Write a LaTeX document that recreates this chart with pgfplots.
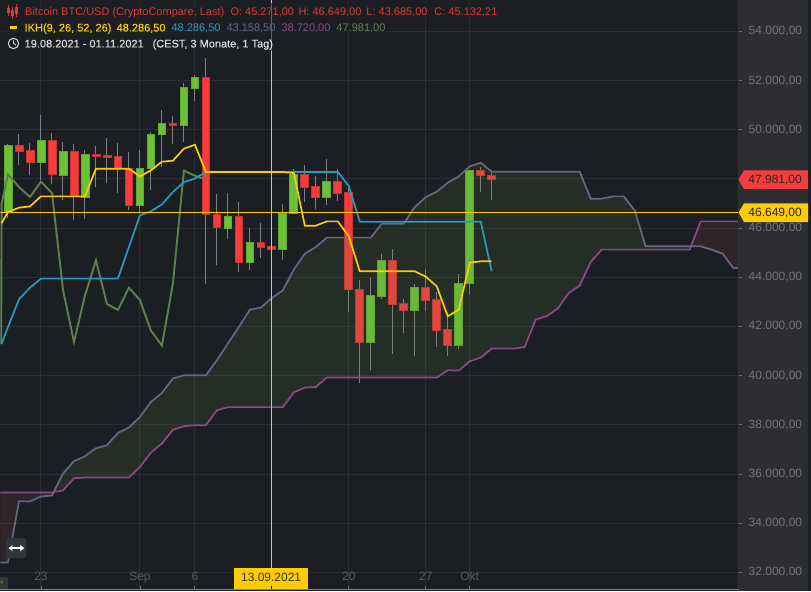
\documentclass[border=0pt]{standalone}
\usepackage{fontspec}
\setmainfont{Liberation Sans}
\newfontfamily\med[FakeBold=0.25]{Liberation Sans}
\usepackage{pgfplots}
\pgfplotsset{compat=1.18}
\usetikzlibrary{arrows.meta}
\definecolor{bg}{HTML}{1B1E23}
\definecolor{panel}{HTML}{2D2E33}
\definecolor{gridc}{HTML}{2B2E33}
\definecolor{wickc}{HTML}{7E8185}
\definecolor{upbody}{HTML}{6CC235}
\definecolor{upedge}{HTML}{5FA832}
\definecolor{dnbody}{HTML}{F83C3C}
\definecolor{dnedge}{HTML}{C83232}
\definecolor{ikhy}{HTML}{FFCC00}
\definecolor{kij}{HTML}{2B9AC0}
\definecolor{spa}{HTML}{6A6585}
\definecolor{spb}{HTML}{8C4B85}
\definecolor{chi}{HTML}{5F8050}
\definecolor{cloudg}{HTML}{64893E}
\definecolor{cloudr}{HTML}{9A4D3E}
\definecolor{ticktxt}{HTML}{747578}
\definecolor{hdrred}{HTML}{DB3A3A}
\definecolor{hdrtxt}{HTML}{DDDDDD}
% #1 up/dn, #2 day, #3 body low, #4 body high, #5 low, #6 high
\newcommand{\candle}[6]{%
  \addplot[forget plot, wickc, line width=1pt] coordinates {(#2,#5) (#2,#6)};
  \pgfmathsetmacro\xl{#2-0.36}\pgfmathsetmacro\xr{#2+0.36}%
  \addplot[forget plot, draw=#1edge, fill=#1body, line width=.8pt] coordinates {(\xl,#3) (\xr,#3) (\xr,#4) (\xl,#4)} --cycle;
}
\begin{document}
\begin{tikzpicture}[x=1pt,y=1pt]
\fill[bg] (0,0) rectangle (811,591);
\fill[panel] (738.5,0) rectangle (808,591);
\begin{axis}[
  at={(0pt,2pt)}, anchor=south west, scale only axis,
  width=738.5pt, height=589pt,
  xmin=-3.682, xmax=63.45, ymin=31317, ymax=55260,
  axis line style={draw=none},
  xtick={0,9,14,21,28,35,39},
  xticklabels={23,Sep,6,,20,27,Okt},
  ytick={32000,34000,...,54000},
  scaled y ticks=false,
  ytick pos=right, yticklabel pos=right, xtick pos=bottom,
  ytick align=outside, xtick align=inside,
  major tick length=3pt,
  tick style={draw=gridc!70!white, line width=.8pt},
  grid=major, grid style={gridc, line width=1pt},
  tick label style={font=\fontsize{12}{14}\selectfont, text=ticktxt, inner sep=0pt},
  xticklabel style={anchor=base, yshift=-3.5pt, text=ticktxt!120!white},
  xticklabel shift=-12pt,
  yticklabel style={anchor=west, xshift=7pt},
  /pgf/number format/.cd, fixed, fixed zerofill, precision=2, use comma, 1000 sep={.}, assume math mode=true,
  /tikz/.cd,
]
\candle{up}{-3}{46642}{49354}{46398}{49406}
\candle{dn}{-2}{49134}{49354}{48553}{49813}
\candle{dn}{-1}{48687}{49150}{48146}{49447}
\candle{up}{0}{48687}{49557}{47943}{50585}
\candle{dn}{1}{48175}{49557}{47780}{49853}
\candle{up}{2}{48158}{49110}{47130}{49488}
\candle{dn}{3}{47333}{49110}{46317}{49406}
\candle{up}{4}{47264}{48988}{46370}{49163}
\candle{dn}{5}{48931}{48980}{47658}{49337}
\candle{dn}{6}{48898}{48939}{47821}{49650}
\candle{dn}{7}{48431}{48906}{47427}{49447}
\candle{dn}{8}{46939}{48443}{46724}{49081}
\candle{up}{9}{46939}{48443}{46642}{49163}
\candle{up}{10}{48443}{49801}{47536}{49900}
\candle{up}{11}{49801}{50248}{48471}{50789}
\candle{dn}{12}{50191}{50260}{49406}{50545}
\candle{up}{13}{50191}{51711}{49500}{51886}
\candle{up}{14}{51695}{52118}{51154}{52211}
\candle{dn}{15}{46548}{52118}{43744}{52915}
\candle{dn}{16}{46044}{46548}{44500}{47402}
\candle{up}{17}{46004}{46467}{45557}{47427}
\candle{dn}{18}{44597}{46467}{44215}{47049}
\candle{up}{19}{44597}{45410}{44297}{46004}
\candle{dn}{20}{45232}{45410}{44784}{46224}
\candle{dn}{21}{45126}{45260}{44894}{45504}
\candle{up}{22}{45126}{46614}{44691}{46996}
\candle{up}{23}{46614}{48187}{46614}{48418}
\candle{dn}{24}{47671}{48175}{47061}{48553}
\candle{dn}{25}{47264}{47687}{46764}{48106}
\candle{up}{26}{47264}{47890}{46927}{48825}
\candle{dn}{27}{47427}{47890}{47102}{48390}
\candle{dn}{28}{43500}{47443}{42589}{47618}
\candle{dn}{29}{41370}{43500}{39720}{43906}
\candle{up}{30}{41370}{43256}{40219}{43988}
\candle{up}{31}{43240}{44691}{43134}{44963}
\candle{dn}{32}{42915}{44691}{40898}{45167}
\candle{dn}{33}{42671}{42931}{41736}{43134}
\candle{up}{34}{42671}{43581}{40801}{43744}
\candle{dn}{35}{43077}{43581}{42618}{44353}
\candle{dn}{36}{41833}{43093}{41167}{43402}
\candle{dn}{37}{41224}{41874}{40801}{42589}
\candle{up}{38}{41224}{43744}{41073}{44122}
\candle{up}{39}{43744}{48337}{43309}{48337}
\candle{dn}{40}{48134}{48337}{47455}{48484}
\candle{dn}{41}{47981}{48134}{47130}{48280}
% Cloud (between Senkou A and B)
\addplot[forget plot, draw=none, fill=cloudr, fill opacity=.15] coordinates {
(-3.7,35248)(1,35248)(1.12,35257)(1,35126)(0,35085)(-1,34882)(-2,34894)(-3,32402)(-3.7,32402)} --cycle;
\addplot[forget plot, draw=none, fill=cloudg, fill opacity=.15] coordinates {
(1.12,35257)(2,36020)(3,36520)(4,36724)(5,37049)(6,37170)(7,37671)(8,37890)(9,38321)(10,38931)(11,39297)(12,39882)(13,40016)(15,40016)(16,40626)(17,41305)(18,41979)(19,42687)(20,42768)(21,43158)(22,43472)(23,44313)(24,44963)(25,45232)(26,45614)(30,45614)(31,46183)(33,46183)(34,46858)(35,47264)(36,47484)(37,47850)(38,48106)(39,48512)(40,48662)(41,48297)(49,48297)(50,47199)(51,47199)(52,47293)(53,47293)(54,46724)(55,45260)(59.12,45260)(59,45126)(51,45126)(50,44622)(49,43663)(48,43362)(47,42728)(46,42427)(45,42280)(44,41167)(43,41101)(41,41101)(40,40736)(39,40585)(38,40207)(37,40219)(36,39923)(26,39923)(25,39540)(24,39516)(23,39325)(22,38720)(17,38720)(16,38593)(15,37984)(14,37984)(13,37943)(12,37801)(11,37240)(10,36874)(9,36289)(8,35857)(4,35857)(3,35829)(2,35329)} --cycle;
\addplot[forget plot, draw=none, fill=cloudr, fill opacity=.15] coordinates {
(59.12,45260)(60,46276)(63.5,46276)(63.5,44394)(63,44366)(62,44963)(61,45126)(60,45260)} --cycle;
% Senkou B
\addplot[forget plot, spb, line width=1.7pt] coordinates {
(-3.7,35248)(1,35248)(2,35329)(3,35829)(4,35857)(8,35857)(9,36289)(10,36874)(11,37240)(12,37801)(13,37943)(14,37984)(15,37984)(16,38593)(17,38720)(22,38720)(23,39325)(24,39516)(25,39540)(26,39923)(36,39923)(37,40219)(38,40207)(39,40585)(40,40736)(41,41101)(43,41101)(44,41167)(45,42280)(46,42427)(47,42728)(48,43362)(49,43663)(50,44622)(51,45126)(59,45126)(60,46276)(63.5,46276)};
% Senkou A
\addplot[forget plot, spa, line width=1.7pt] coordinates {
(-3.7,32402)(-3,32402)(-2,34894)(-1,34882)(0,35085)(1,35126)(2,36020)(3,36520)(4,36724)(5,37049)(6,37170)(7,37671)(8,37890)(9,38321)(10,38931)(11,39297)(12,39882)(13,40016)(15,40016)(16,40626)(17,41305)(18,41979)(19,42687)(20,42768)(21,43158)(22,43472)(23,44313)(24,44963)(25,45232)(26,45614)(30,45614)(31,46183)(33,46183)(34,46858)(35,47264)(36,47484)(37,47850)(38,48106)(39,48512)(40,48662)(41,48297)(49,48297)(50,47199)(51,47199)(52,47293)(53,47293)(54,46724)(55,45260)(60,45260)(61,45126)(62,44963)(63,44366)(63.5,44394)};
% Chikou
\addplot[forget plot, chi, line width=1.9pt] coordinates {
(-3.62,41300)(-3.58,47000)(-3,48187)(-2,47671)(-1,47264)(0,47890)(1,47427)(2,43500)(3,41370)(4,43256)(5,44691)(6,42915)(7,42671)(8,43581)(9,43077)(10,41833)(11,41224)(12,43744)(13,48337)(14,48134)(15,47981)};
% Kijun
\addplot[forget plot, kij, line width=1.7pt] coordinates {
(-3.6,41276)(-3,41979)(-2,43105)(-1,43581)(0,43947)(7,43947)(8,45232)(9,46520)(10,46683)(11,46967)(12,47467)(13,47874)(14,48012)(15,48286.5)(27,48286.5)(28,47711)(29,46264)(40,46264)(41,44244)};
% Tenkan
\addplot[forget plot, ikhy, line width=1.7pt] coordinates {
(-3.6,46195)(-3,46654)(-2,46833)(-1,46886)(0,47293)(4,47293)(5,48418)(8,48418)(9,48106)(10,48350)(11,48703)(12,48744)(13,49232)(14,49394)(15,48286.5)(22,48286.5)(23,48240)(24,46101)(25,46101)(26,46276)(27,46276)(28,45667)(29,44244)(34,44244)(35,44028)(36,43634)(37,42415)(38,42687)(39,44597)(40,44650)(41,44650)};
% Crosshair and last-price line
\addplot[forget plot, ikhy, line width=.9pt] coordinates {(-3.682,46649)(63.45,46649)};
\addplot[forget plot, ikhy, line width=.9pt] coordinates {(21,31317)(21,55260)};
\end{axis}
\draw[black!80, line width=1pt] (738.5,0) -- (738.5,591);
\draw[white!45!bg, line width=1pt] (0,2) -- (738.5,2);
% date tag
\fill[ikhy] (234,2) rectangle (307.7,23);
\node[font=\fontsize{12}{14}\selectfont, text=black!80, inner sep=0pt] at (270.8,13.5) {13.09.2021};
\draw[black, line width=.8pt] (271.5,2) -- (271.5,5);
% price tags
\fill[dnbody] (738.5,411.7) -- (744,421) -- (808,421) -- (808,402.3) -- (744,402.3) -- cycle;
\node[font=\fontsize{12}{14}\selectfont, text=black!85, inner sep=0pt, anchor=east] at (802,411.5) {47.981,00};
\fill[ikhy] (738.5,379) -- (744,388) -- (808,388) -- (808,369.3) -- (744,369.3) -- cycle;
\node[font=\fontsize{12}{14}\selectfont, text=black!85, inner sep=0pt, anchor=east] at (802,378.5) {46.649,00};
% header
\fill[bg, opacity=.6] (0,572) rectangle (500,588);
\fill[bg, opacity=.6] (0,556) rectangle (388,572);
\fill[bg, opacity=.6] (0,540) rectangle (273,556);
\begin{scope}[font=\fontsize{11}{13}\selectfont, every node/.style={inner sep=0pt, anchor=base west}]
\foreach \x/\ya/\yb in {8/577/585, 12/574/583, 16/576/586} {
  \draw[hdrred, line width=.8pt] (\x,\ya-1.5) -- (\x,\yb+1.5);
  \fill[hdrred] (\x-1.3,\ya+1.5) rectangle (\x+1.3,\yb-2);
}
\node[text=hdrred] at (24.5,576) {Bitcoin BTC/USD (CryptoCompare, Last)};
\node[text=hdrred] at (230,576) {O: 45.271,00};
\node[text=hdrred] at (298,576) {H: 46.649,00};
\node[text=hdrred] at (366,576) {L: 43.685,00};
\node[text=hdrred] at (434,576) {C: 45.132,21};
\fill[ikhy] (10,562.5) rectangle (17,565);
\node[text=ikhy] at (24,560) {\med IKH(9, 26, 52, 26)};
\node[text=ikhy] at (116,560) {\med 48.286,50};
\node[text=kij] at (171,560) {48.286,50};
\node[text=spa] at (226,560) {43.158,50};
\node[text=spb] at (281,560) {38.720,00};
\node[text=chi] at (336,560) {47.981,00};
\draw[hdrtxt, line width=1pt] (13,548) circle (5.2);
\draw[hdrtxt, line width=.9pt] (13,551) -- (13,548) -- (15.5,546.5);
\node[text=hdrtxt] at (24,544) {\med 19.08.2021 - 01.11.2021};
\node[text=hdrtxt] at (152,544) {\med (CEST, 3 Monate, 1 Tag)};
\end{scope}
% resize handle
\fill[white!10!bg, rounded corners=2pt] (6,33) rectangle (26,53);
\draw[white, line width=1.6pt, {Latex[length=4pt,width=7pt]}-{Latex[length=4pt,width=7pt]}] (8,43) -- (24,43);
\fill[white!10!bg] (0,2) rectangle (8,14);
\fill[ikhy!45!bg] (1.3,9) circle (1.5);
\end{tikzpicture}
\end{document}
